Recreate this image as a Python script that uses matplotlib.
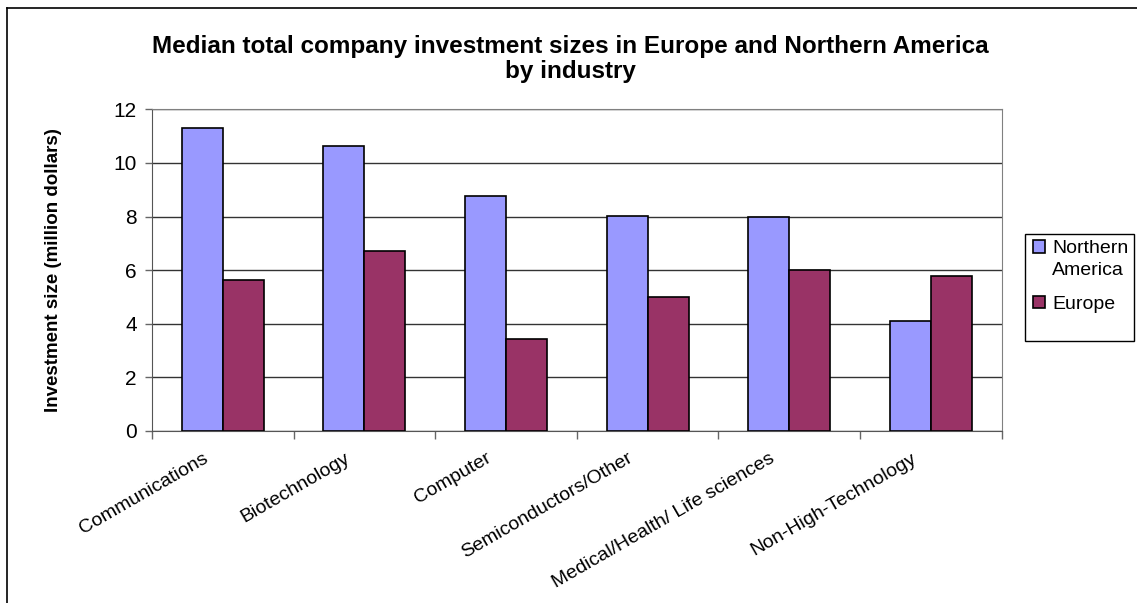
import matplotlib.pyplot as plt
import numpy as np
from matplotlib.patches import Rectangle
from matplotlib.lines import Line2D
from matplotlib.transforms import ScaledTranslation

plt.rcParams['font.family'] = ['Liberation Sans', 'DejaVu Sans']

industries = ['Communications', 'Biotechnology', 'Computer', 'Semiconductors/Other',
              'Medical/Health/ Life sciences', 'Non-High-Technology']
northern_america = [11.32, 10.63, 8.77, 8.02, 7.97, 4.10]
europe = [5.63, 6.70, 3.42, 4.99, 6.00, 5.80]
yticks = [0, 2, 4, 6, 8, 10, 12]

W, H = 1137, 603
fig = plt.figure(figsize=(W / 100, H / 100), dpi=100)
ax = fig.add_axes([152 / W, 1 - 431 / H, 849.7 / W, 321.7 / H])

x = np.arange(len(industries))
w = 0.29
ax.bar(x - w/2, northern_america, w, color='#9999FF', edgecolor='black', linewidth=1.2,
       label='Northern\nAmerica', zorder=3)
ax.bar(x + w/2, europe, w, color='#993366', edgecolor='black', linewidth=1.2,
       label='Europe', zorder=3)

ax.set_xlim(-0.5, len(industries) - 0.5)
ax.set_ylim(0, 12)
ax.set_yticks(yticks)
ax.set_yticklabels([str(t) for t in yticks], fontsize=15)
ax.yaxis.grid(True, color='#333333', linewidth=1, zorder=0)
ax.tick_params(axis='y', length=5, width=1, color='#666666', pad=6)

# category ticks at boundaries, labels at centres
ax.set_xticks(np.arange(len(industries) + 1) - 0.5)
ax.set_xticklabels([])
ax.tick_params(axis='x', which='major', length=6, width=1, color='#666666')
ax.set_xticks(x, minor=True)
ax.set_xticklabels(industries, minor=True, rotation=30, ha='right', rotation_mode='anchor',
                   fontsize=14)
ax.tick_params(axis='x', which='minor', length=0, pad=12)
shift = ScaledTranslation(-0.2, -0.02, fig.dpi_scale_trans)
for lab in ax.get_xticklabels(minor=True):
    lab.set_transform(lab.get_transform() + shift)

for s in ['top', 'right']:
    ax.spines[s].set_color('#808080')
for s in ['left', 'bottom']:
    ax.spines[s].set_color('#555555')

ax.set_ylabel('Investment size (million dollars)', fontsize=13.5, fontweight='bold', labelpad=37)

fig.text(0.502, 1 - 59 / H, 'Median total company investment sizes in Europe and Northern America\nby industry',
         ha='center', va='center', fontsize=17.5, fontweight='bold', linespacing=1.1)

leg = fig.legend(loc='upper left', bbox_to_anchor=(1033 / W, 1 - 240 / H), fontsize=14,
                 frameon=False, handlelength=0.62, handleheight=0.62,
                 handletextpad=0.36, borderpad=0, borderaxespad=0, labelspacing=0.85)
for h in leg.legend_handles:
    h.set_linewidth(1.2)
for t in leg.get_texts():
    t.set_linespacing(1.4)
for col in leg._legend_handle_box.get_children():
    for row in col.get_children():
        row.align = 'top'
fig.add_artist(Rectangle((1025 / W, 1 - 341 / H), 109 / W, 107 / H, transform=fig.transFigure,
                         facecolor='none', edgecolor='black', lw=1))

# outer chart border
fig.add_artist(Line2D([7 / W, 7 / W], [0, 1 - 8 / H], color='black', lw=1.2, transform=fig.transFigure))
fig.add_artist(Line2D([7 / W, 1], [1 - 8 / H, 1 - 8 / H], color='black', lw=1.2, transform=fig.transFigure))

fig.savefig('out.png', dpi=100)
